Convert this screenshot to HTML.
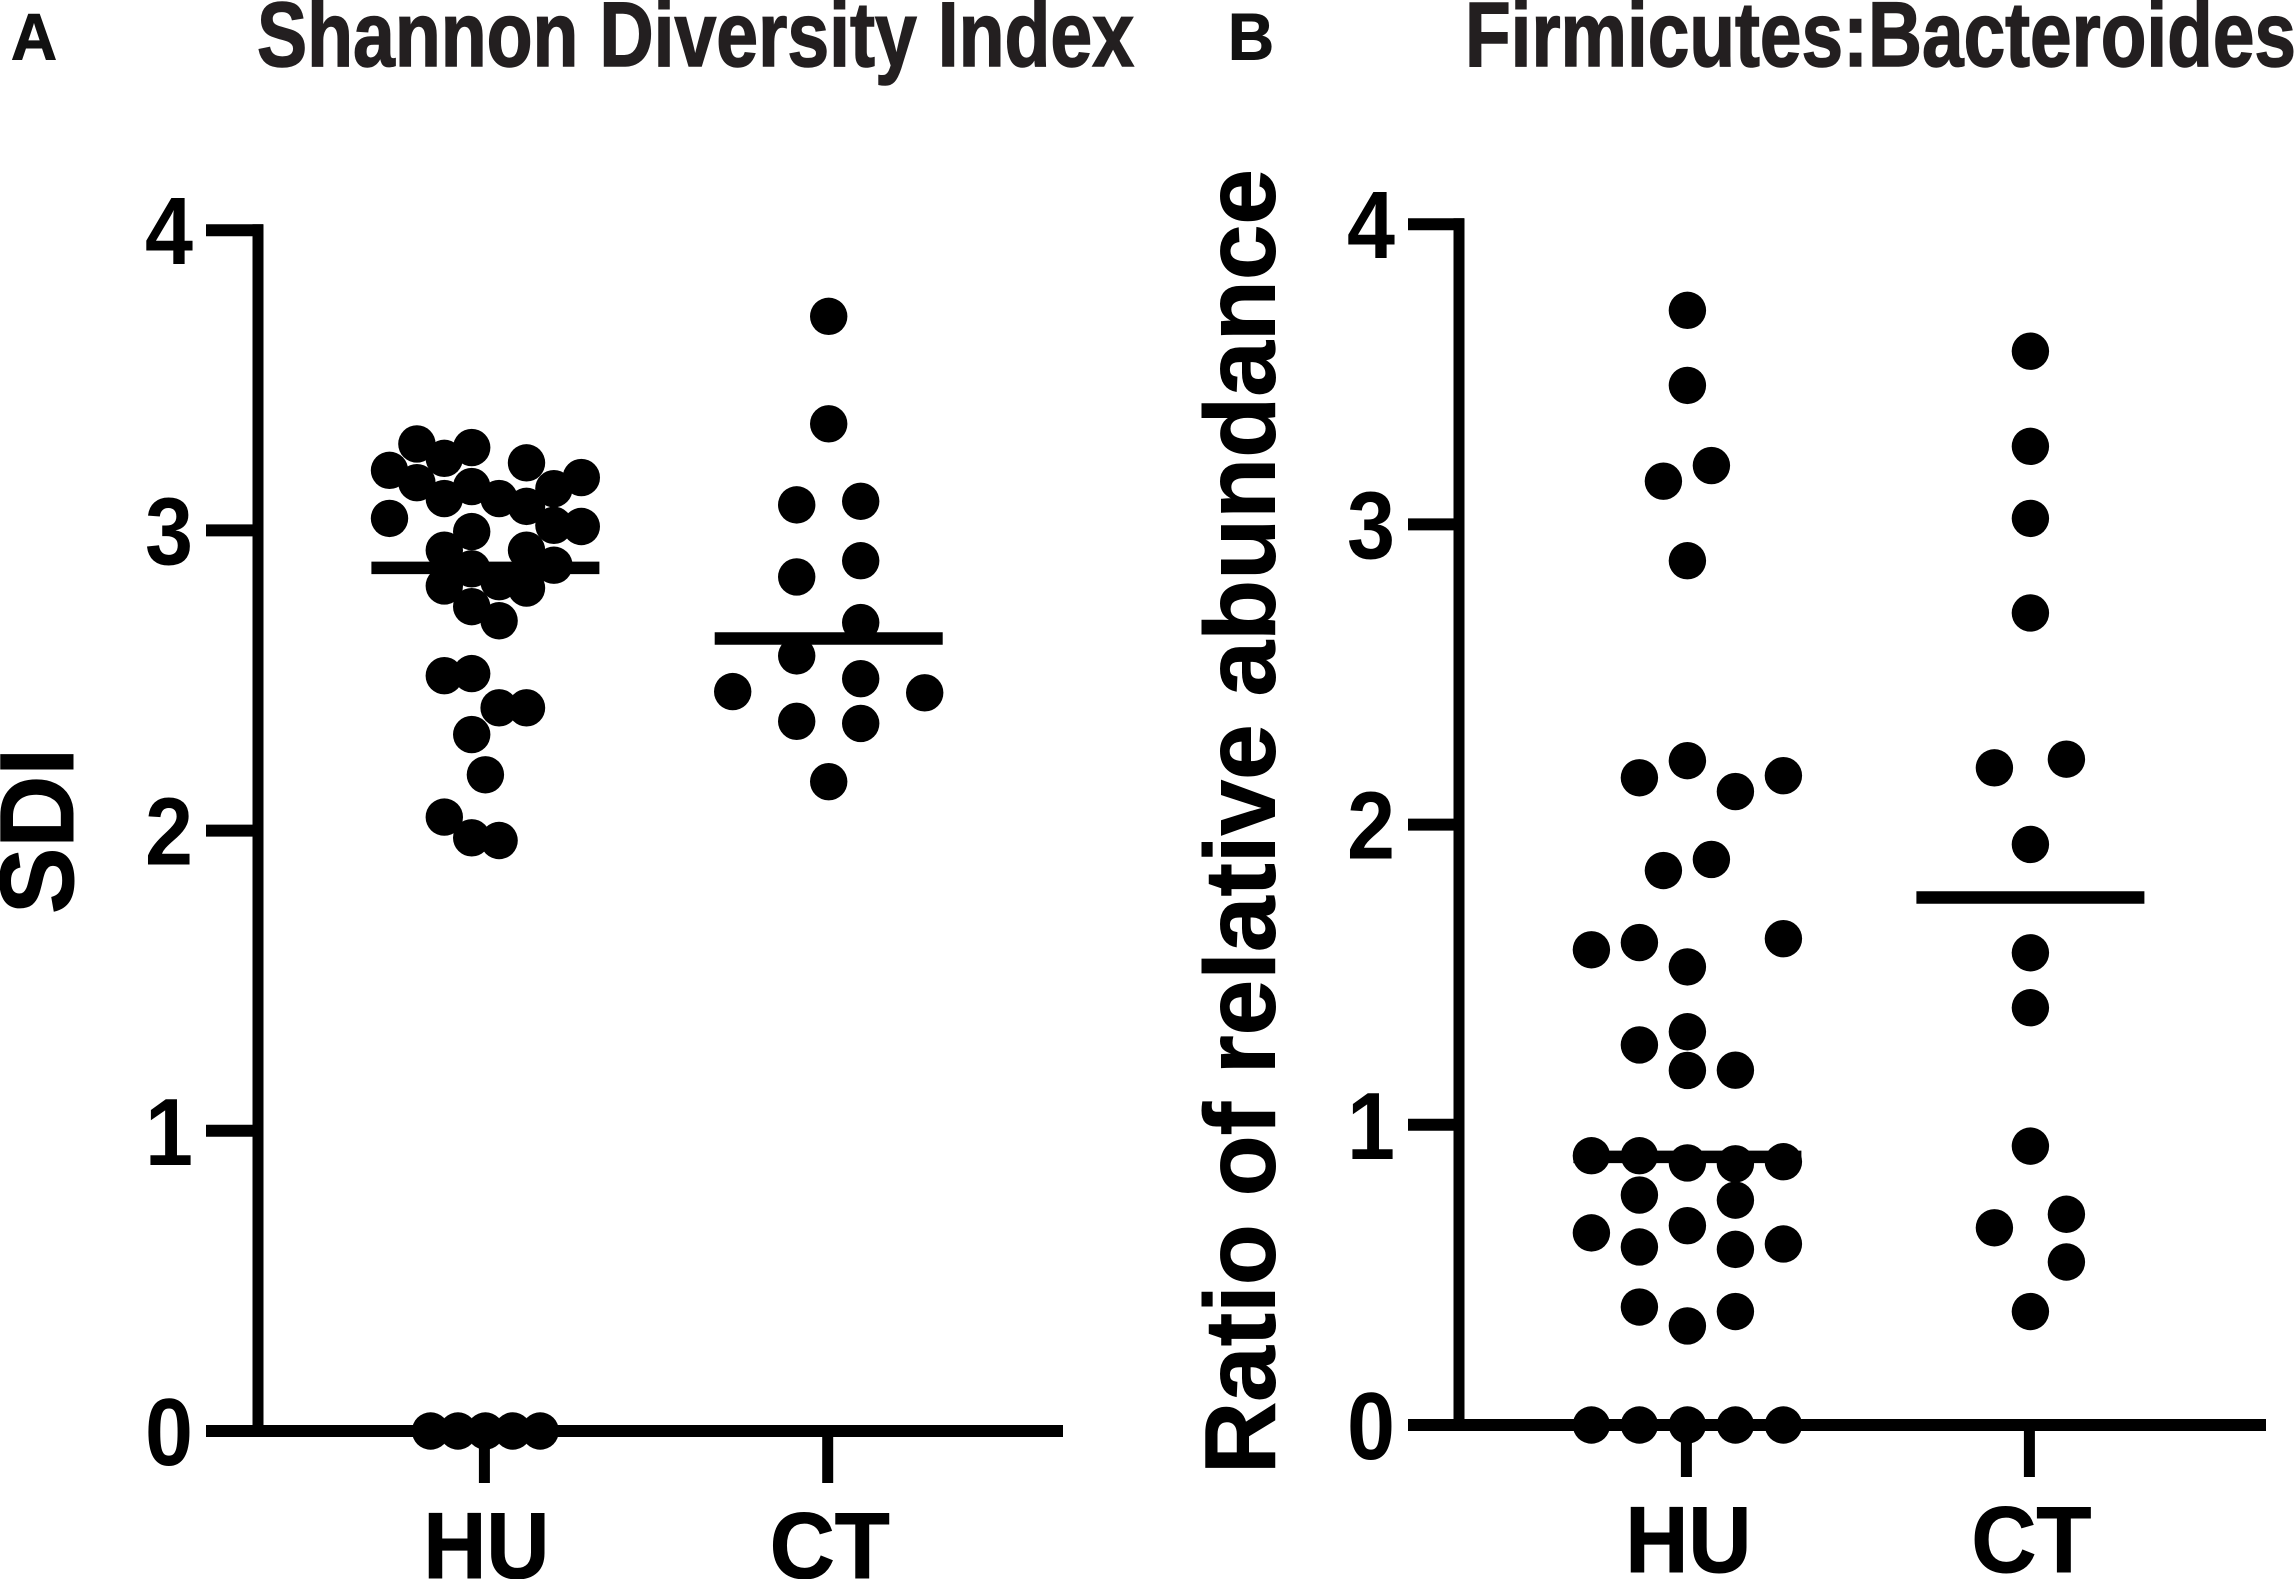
<!DOCTYPE html>
<html lang="en">
<head>
<meta charset="utf-8">
<title>Shannon Diversity Index and Firmicutes:Bacteroides</title>
<style>
html,body{margin:0;padding:0;background:#fff;width:2296px;height:1579px;overflow:hidden}
svg{display:block}
text{font-family:"Liberation Sans",Arial,sans-serif;font-weight:bold}
</style>
</head>
<body>
<svg id="figure" xmlns="http://www.w3.org/2000/svg" width="2296" height="1579" viewBox="0 0 2296 1579">
  <rect x="0" y="0" width="2296" height="1579" fill="#fff"/>
  <text x="11" y="59.5" font-size="66" textLength="46" lengthAdjust="spacingAndGlyphs" fill="#111" stroke="#111" stroke-width="1">A</text>
  <text x="1228" y="59.5" font-size="66" textLength="46" lengthAdjust="spacingAndGlyphs" fill="#111" stroke="#111" stroke-width="1">B</text>
  <text x="257" y="66" font-size="92" textLength="877" lengthAdjust="spacingAndGlyphs" fill="#231f20" stroke="#231f20" stroke-width="1.5">Shannon Diversity Index</text>
  <text x="1465" y="66" font-size="92" textLength="831" lengthAdjust="spacingAndGlyphs" fill="#231f20" stroke="#231f20" stroke-width="1.5">Firmicutes:Bacteroides</text>
  <text transform="translate(73 831) rotate(-90)" text-anchor="middle" font-size="105" textLength="166" lengthAdjust="spacingAndGlyphs" fill="#000" stroke="#000" stroke-width="1">SDI</text>
  <text transform="translate(1274.5 821.5) rotate(-90)" text-anchor="middle" font-size="100" textLength="1305" lengthAdjust="spacingAndGlyphs" fill="#000" stroke="#000" stroke-width="1">Ratio of relative abundance</text>
  <g id="panel-a"></g>
  <g id="panel-b"></g>
</svg>
<script>
var categories = ['HU', 'CT'];
var yTickValues = [0, 1, 2, 3, 4];
var yTickLabels = ['0', '1', '2', '3', '4'];

var shannonHuValues = [3.288,3.240,3.276,3.225,3.200,3.159,3.146,3.176,3.139,3.106,3.106,3.080,3.040,3.013,3.017,2.996,2.934,2.934,2.884,2.872,2.815,2.829,2.808,2.746,2.699,2.516,2.523,2.409,2.409,2.320,2.186,2.045,1.976,1.967,0,0,0,0,0];
var shannonHuSwarmSlots = [-5,-3,-1,3,-7,-5,-1,7,5,-3,1,3,-7,7,5,-1,-3,3,5,-1,-3,1,3,-1,1,-3,-1,1,3,-1,0,-3,-1,1,-4,-2,0,2,4];
var shannonCtValues = [3.713,3.355,3.085,3.097,2.845,2.899,2.693,2.582,2.506,2.463,2.459,2.364,2.357,2.163];
var shannonCtSwarmSlots = [0,0,-1,1,-1,1,1,-1,1,-3,3,-1,1,0];
var shannonMedians = [2.875, 2.64];

var firmicutesHuValues = [3.713,3.463,3.144,3.196,2.879,2.213,2.156,2.163,2.110,1.847,1.884,1.583,1.607,1.526,1.620,1.310,1.266,1.181,1.182,0.897,0.897,0.873,0.870,0.877,0.766,0.749,0.640,0.664,0.593,0.585,0.603,0.393,0.378,0.330,0,0,0,0,0];
var firmicutesHuSwarmSlots = [0,0,-0.5,0.5,0,0,-1,2,1,-0.5,0.5,-2,-1,0,2,0,-1,0,1,-2,-1,0,1,2,-1,1,-2,0,-1,1,2,-1,1,0,-2,-1,0,1,2];
var firmicutesCtValues = [3.577,3.260,3.020,2.705,2.189,2.218,1.934,1.573,1.390,0.929,0.702,0.657,0.543,0.378];
var firmicutesCtSwarmSlots = [0,0,0,0,-1,1,0,0,0,0,1,-1,1,0];
var firmicutesMedians = [0.893, 1.757];

var SVG_NS = 'http://www.w3.org/2000/svg';

function make(parent, tag, attrs) {
  var el = document.createElementNS(SVG_NS, tag);
  for (var k in attrs) { el.setAttribute(k, attrs[k]); }
  parent.appendChild(el);
  return el;
}

function drawPanel(root, cfg) {
  function yScale(v) { return cfg.y0 - v * cfg.unit; }
  function xScale(i) { return cfg.x0 + i * cfg.step; }

  yTickValues.forEach(function (v, i) {
    var tick = make(root, 'line', {x1: cfg.axisX - cfg.tickLen, x2: cfg.axisX + 5, y1: yScale(v), y2: yScale(v), stroke: '#000', 'stroke-width': 12});
    
    
    var label = make(root, 'text', {x: cfg.labelX, y: yScale(v) + 34, 'text-anchor': 'middle', 'font-size': 96, textLength: 48, lengthAdjust: 'spacingAndGlyphs', fill: '#000'});
    label.textContent = yTickLabels[i];
    
    
  });

  var yAxis = make(root, 'line', {x1: cfg.axisX, x2: cfg.axisX, y1: yScale(4) - 6, y2: yScale(0), stroke: '#000', 'stroke-width': 11});
  
  

  var xAxis = make(root, 'line', {x1: cfg.axisX - cfg.tickLen, x2: cfg.xEnd, y1: yScale(0), y2: yScale(0), stroke: '#000', 'stroke-width': 12});
  
  

  categories.forEach(function (name, i) {
    var tick = make(root, 'line', {x1: xScale(i) - 1, x2: xScale(i) - 1, y1: yScale(0), y2: yScale(0) + 52, stroke: '#000', 'stroke-width': 11});
    
    
    var label = make(root, 'text', {x: xScale(i) + 1, y: cfg.catBaseline, 'text-anchor': 'middle', 'font-size': 94, textLength: i === 0 ? 126 : 120, lengthAdjust: 'spacingAndGlyphs', fill: '#000', stroke: '#000', 'stroke-width': 1});
    label.textContent = name;
    
    

    var values = cfg.values[i];
    var slots = cfg.slots[i];
    values.forEach(function (v, j) {
      var dot = make(root, 'circle', {cx: xScale(i) + slots[j] * cfg.slotPx[i], cy: yScale(v), r: 18.7, fill: '#000'});
      
      
    });

    var median = make(root, 'line', {x1: xScale(i) - 114, x2: xScale(i) + 114, y1: yScale(cfg.medians[i]), y2: yScale(cfg.medians[i]), stroke: '#000', 'stroke-width': 12.5});
    
    
  });
}

drawPanel(document.getElementById('panel-a'), {
  y0: 1431, unit: 300.2, axisX: 258, tickLen: 52, xEnd: 1063, labelX: 169,
  x0: 485.4, step: 343.3, catBaseline: 1578,
  values: [shannonHuValues, shannonCtValues],
  slots: [shannonHuSwarmSlots, shannonCtSwarmSlots],
  slotPx: [13.7, 32],
  medians: shannonMedians
});

drawPanel(document.getElementById('panel-b'), {
  y0: 1425, unit: 300.2, axisX: 1459, tickLen: 51, xEnd: 2266, labelX: 1371,
  x0: 1687.4, step: 343, catBaseline: 1572,
  values: [firmicutesHuValues, firmicutesCtValues],
  slots: [firmicutesHuSwarmSlots, firmicutesCtSwarmSlots],
  slotPx: [48, 36],
  medians: firmicutesMedians
});
</script>
</body>
</html>
